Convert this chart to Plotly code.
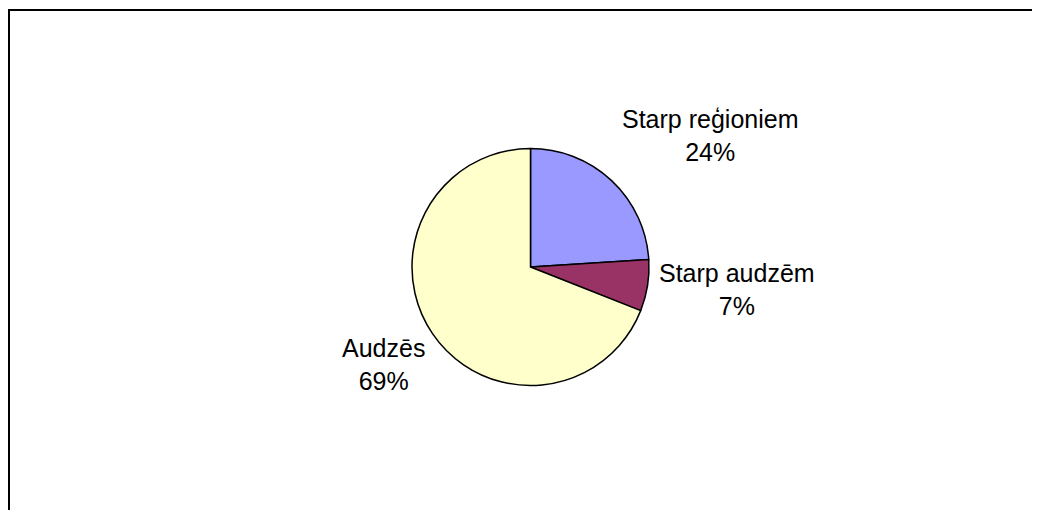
import plotly.graph_objects as go

labels = ["Starp reģioniem", "Starp audzēm", "Audzēs"]
values = [24, 7, 69]
colors = ["#9999FF", "#993366", "#FFFFCC"]

# the page body adds an 8px margin, so the figure is sized to fit the window
W, H = 1024, 502

# label block centres in pixels (x, y from top of the figure)
label_pos = [(702, 127), (729, 281), (375, 356)]

fig = go.Figure()
fig.add_trace(go.Pie(
    labels=labels, values=values, sort=False, direction="clockwise", rotation=0,
    marker=dict(colors=colors, line=dict(color="black", width=1.5)),
    textinfo="none", hoverinfo="label+percent", showlegend=False,
    domain=dict(x=[404 / W, 641 / W], y=[1 - 378 / H, 1 - 140 / H]),
))

total = sum(values)
for (px, py), lab, v in zip(label_pos, labels, values):
    fig.add_annotation(
        x=px / W, y=1 - py / H, xref="paper", yref="paper",
        text=f"{lab}<br>{round(v / total * 100)}%", showarrow=False,
        xanchor="center", yanchor="middle", align="center",
        font=dict(family="Liberation Sans, Arial, sans-serif", size=25, color="black"),
    )

# chart-area frame: only its top and left edges fall inside the window
frame = dict(color="black", width=2)
fig.add_shape(type="line", xref="paper", yref="paper",
              x0=0, x1=1.05, y0=1 - 2 / H, y1=1 - 2 / H, line=frame)
fig.add_shape(type="line", xref="paper", yref="paper",
              x0=1 / W, x1=1 / W, y0=-0.05, y1=1 - 2 / H, line=frame)

fig.update_layout(
    width=W, height=H,
    margin=dict(l=0, r=0, t=0, b=0),
    paper_bgcolor="white", plot_bgcolor="white",
)

fig.write_html("out.html", config={"displayModeBar": False})
